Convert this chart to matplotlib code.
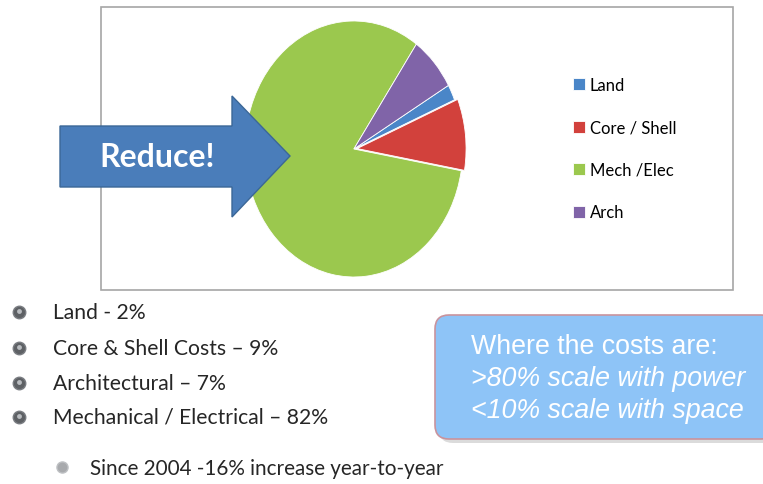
import numpy as np
import matplotlib
matplotlib.use("Agg")
import matplotlib.pyplot as plt
from matplotlib.patches import Polygon, Rectangle, FancyBboxPatch


# pie data (clockwise from the Land slice)
categories = ["Land", "Core / Shell", "Mech /Elec", "Arch"]
shares = [2, 9, 82, 7]
colors = ["#4A86C8", "#D2413C", "#9BC84E", "#8064A8"]

bullet_items = ["Land - 2%", "Core & Shell Costs \u2013 9%", "Architectural \u2013 7%",
                "Mechanical / Electrical \u2013 82%"]
sub_item = "Since 2004 -16% increase year-to-year"
box_lines = ["Where the costs are:", ">80% scale with power", "<10% scale with space"]

W, H = 763, 485


def px_axes(fig, zorder):
    ax = fig.add_axes([0, 0, 1, 1], zorder=zorder)
    ax.set_xlim(0, W)
    ax.set_ylim(H, 0)
    ax.axis("off")
    ax.patch.set_visible(False)
    return ax


def main():
    fig = plt.figure(figsize=(W / 100, H / 100), dpi=100)
    fig.patch.set_facecolor("white")

    bg = px_axes(fig, 0)
    # chart frame
    bg.add_patch(Rectangle((101, 8), 632, 283, facecolor="white",
                           edgecolor="#A6A6A6", lw=1.2))

    # pie in its own axes, stretched into an ellipse like the slide
    cx, cy, rx, ry = 355, 150, 110, 128
    pie_ax = fig.add_axes([(cx - rx) / W, 1 - (cy + ry) / H, 2 * rx / W, 2 * ry / H],
                          zorder=1)
    wedges, _ = pie_ax.pie(shares, colors=colors, startangle=29.8, counterclock=False,
                           explode=[0, 0.03, 0, 0],
                           wedgeprops=dict(edgecolor="white", linewidth=0.6))
    pie_ax.set_aspect("auto")
    pie_ax.set_xlim(-1, 1.02)
    pie_ax.set_ylim(-1, 1)
    pie_ax.axis("off")

    # legend
    fig.legend(wedges, categories, loc="upper left",
               bbox_to_anchor=(558 / W, 1 - 63 / H), frameon=False,
               prop=dict(family="Lato", size=12), labelspacing=1.59,
               handlelength=0.7, handleheight=0.7, handletextpad=0.3)

    top = px_axes(fig, 3)
    arrow = Polygon([(60, 127), (232, 127), (232, 97), (290, 157),
                     (232, 218), (232, 188), (60, 188)], closed=True,
                    facecolor="#4A7DBA", edgecolor="#3B6797", lw=1)
    top.add_patch(arrow)
    top.text(157, 158, "Reduce!", color="white", fontsize=23, fontweight="bold",
             family="Lato", ha="center", va="center")

    # bullet list
    ys = [313, 349, 384, 418]
    top.plot([19] * len(ys), ys, "o", ms=9, color="#5E6165", mec="#7A7D82")
    top.plot([19] * len(ys), [y - 1.5 for y in ys], "o", ms=3.5, color="#B9BCC0", mec="none")
    for y, s in zip(ys, bullet_items):
        top.text(53, y, s, fontsize=15.2, family="Lato", color="#262626", va="center")
    top.plot([62], [468], "o", ms=8, color="#A8AAAD", mec="#BFC1C4")
    top.text(90, 469, sub_item, fontsize=14.9, family="Lato", color="#262626", va="center")

    # callout box
    top.add_patch(FancyBboxPatch((439, 320), 340, 124,
                                 boxstyle="round,pad=0,rounding_size=14",
                                 facecolor="#B8B8B8", edgecolor="none", alpha=0.5))
    top.add_patch(FancyBboxPatch((435, 316), 340, 124,
                                 boxstyle="round,pad=0,rounding_size=14",
                                 facecolor="#8EC4F7", edgecolor="#C9939D", lw=1.2))
    for i, s in enumerate(box_lines):
        top.text(471, 347 + 32 * i, s, fontsize=19.3, family="Liberation Sans",
                 color="white", va="center", style="normal" if i == 0 else "italic")

    fig.savefig("out.png", dpi=100)


if __name__ == '__main__':
    main()
